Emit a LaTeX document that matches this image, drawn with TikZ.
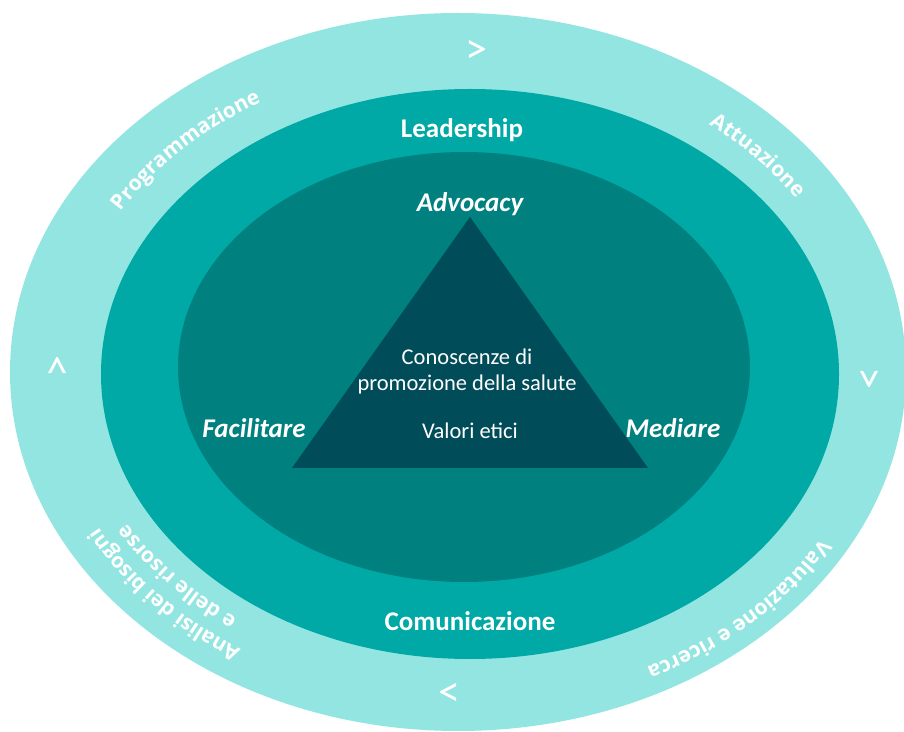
\documentclass[tikz,border=0pt]{standalone}
\usepackage{fontspec}
\setmainfont{Carlito}
\newfontfamily\ringfont{Open Sans}
\usetikzlibrary{positioning}
\usetikzlibrary{decorations.text}
\definecolor{ringlight}{HTML}{93E5E1}
\definecolor{ringmid}{HTML}{00A9A5}
\definecolor{ringdark}{HTML}{00807F}
\definecolor{tridark}{HTML}{004C58}
\newcommand{\ringfmt}{\ringfont\bfseries\fontsize{21}{21}\selectfont}
\tikzset{ringtext/.style = {decorate,
                            decoration={text along path, text={|\ringfmt|#1},
                                        text align=center, text color=white}}}
\tikzset{skill/.style = {text=white, inner sep=0,
                         font=\fontsize{27}{27}\selectfont\bfseries}}
\tikzset{role/.style = {skill, font=\fontsize{27}{27}\selectfont\bfseries\itshape}}
\tikzset{core/.style = {text=white, inner sep=0, font=\fontsize{22.5}{22.5}\selectfont}}
\tikzset{chevron/.style = {text=white, inner sep=0, font=\fontsize{44}{44}\selectfont}}

\begin{document}
\begin{tikzpicture}[x=1pt, y=1pt]
      \useasboundingbox (0, 0) rectangle (904, 731);

      \fill [ringlight] (458, 359) ellipse [x radius=448, y radius=359];
      \fill [ringmid] (470, 357) ellipse [x radius=369, y radius=285];
      \fill [ringdark] (464, 364) ellipse [x radius=286, y radius=215];
      \fill [tridark] (470, 514) -- (292, 263) -- (648, 263) -- cycle;

      \node [skill] (leadership) at (462, 601) {Leadership};
      \node [skill] (comunicazione) at (470, 110) {Comunicazione};
      \node [role] (advocacy) at (470, 527) {Advocacy};
      \node [role] (facilitare) at (254, 303) {Facilitare};
      \node [role] (mediare) at (673, 303) {Mediare};

      \node [core] (conoscenze) at (467, 374) {Conoscenze di};
      \node [core, below=26 of conoscenze.base, anchor=base] (promozione) {promozione della salute};
      \node [core] (valori) at (470, 300) {Valori etici};

      \node [chevron] (chevtop) at (476, 679) {>};
      \node [chevron, rotate=-90] (chevright) at (867, 353) {>};
      \node [chevron, rotate=180] (chevbottom) at (450, 41) {>};
      \node [chevron, rotate=90] (chevleft) at (60, 364) {>};

      % the arcs run clockwise, so the letters stand with their tops outwards
      \begin{scope}[shift={(464, 358)}]
        \path [ringtext={Programmazione}] (171.6:400 and 314)
          arc [start angle=171.6, end angle=101.6, x radius=400, y radius=314];
        \path [ringtext={Attuazione}] (75.9:400 and 314)
          arc [start angle=75.9, end angle=5.9, x radius=400, y radius=314];
        \path [ringtext={Valutazione e ricerca}] (-10.5:414 and 328)
          arc [start angle=-10.5, end angle=-80.5, x radius=414, y radius=328];
        \path [ringtext={Analisi dei bisogni}] (-104:414 and 328)
          arc [start angle=-104, end angle=-174, x radius=414, y radius=328];
        \path [ringtext={e delle risorse}] (-105:388 and 302)
          arc [start angle=-105, end angle=-175, x radius=388, y radius=302];
      \end{scope}
    \end{tikzpicture}
\end{document}
